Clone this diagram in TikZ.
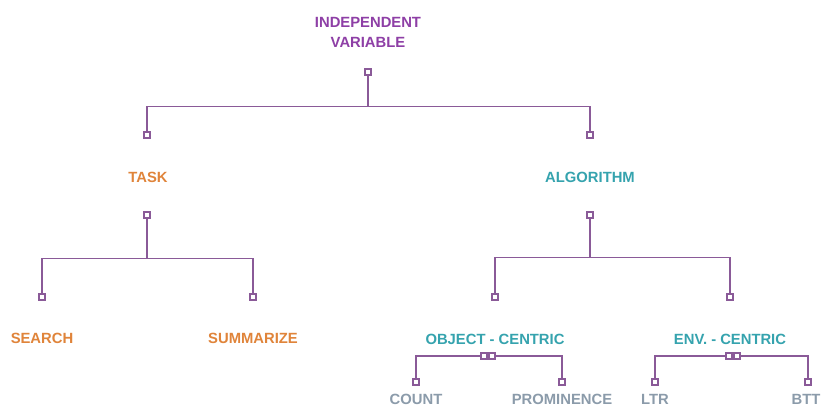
\documentclass[tikz,border=0pt]{standalone}
\usepackage{fontspec}
\setmainfont{Liberation Sans}
\begin{document}
\begin{tikzpicture}[x=1pt,y=-1pt,
  wire/.style={draw=linepurple,line width=1.6pt},
  port/.style={draw=linepurple,fill=white,line width=1.1pt,minimum size=6pt,inner sep=0pt},
  lbl/.style={font=\fontsize{14.8}{20}\selectfont\bfseries,inner sep=0pt,align=center},
  rootlbl/.style={lbl,text=rootpurple},
  tasklbl/.style={lbl,text=taskorange},
  algolbl/.style={lbl,text=algoteal},
  leaflbl/.style={lbl,text=leafgray}]
\definecolor{linepurple}{HTML}{8A5A98}
\definecolor{rootpurple}{HTML}{8E3FA6}
\definecolor{taskorange}{HTML}{E0843A}
\definecolor{algoteal}{HTML}{35A3AE}
\definecolor{leafgray}{HTML}{8B9BAA}
\useasboundingbox[fill=white] (0,0) rectangle (821,407);

% labels
\node[rootlbl] (root) at (368,32) {INDEPENDENT\\VARIABLE};
\node[tasklbl] (task) at (148,177) {TASK};
\node[algolbl] (algo) at (590,177) {ALGORITHM};
\node[tasklbl] (search) at (42,338) {SEARCH};
\node[tasklbl] (summ) at (253,338) {SUMMARIZE};
\node[algolbl] (obj) at (495,339) {OBJECT - CENTRIC};
\node[algolbl] (env) at (730,339) {ENV. - CENTRIC};
\node[leaflbl,anchor=base] (count) at (416,404) {COUNT};
\node[leaflbl,anchor=base] (prom) at (562,404) {PROMINENCE};
\node[leaflbl,anchor=base] (ltr) at (655,404) {LTR};
\node[leaflbl,anchor=base] (btt) at (806,404) {BTT};

% ports
\node[port] (pRoot) at (368,72) {};
\node[port] (pTaskIn) at (147,135) {};
\node[port] (pAlgoIn) at (590,135) {};
\node[port] (pTaskOut) at (147,215) {};
\node[port] (pAlgoOut) at (590,215) {};
\node[port] (pSearch) at (42,297) {};
\node[port] (pSumm) at (253,297) {};
\node[port] (pObj) at (495,297) {};
\node[port] (pEnv) at (730,297) {};
\node[port] (pObjL) at (484,356) {};
\node[port] (pObjR) at (492,356) {};
\node[port] (pEnvL) at (729,356) {};
\node[port] (pEnvR) at (737,356) {};
\node[port] (pCount) at (416,382) {};
\node[port] (pProm) at (562,382) {};
\node[port] (pLtr) at (655,382) {};
\node[port] (pBtt) at (808,382) {};

% connectors
\path[wire] (pRoot.south) -- ++(0,31) coordinate (jRoot);
\path[wire] (pTaskIn.north) |- (jRoot) -| (pAlgoIn.north);
\path[wire] (pTaskOut.south) -- ++(0,40) coordinate (jTask);
\path[wire] (pSearch.north) |- (jTask) -| (pSumm.north);
\path[wire] (pAlgoOut.south) -- ++(0,39) coordinate (jAlgo);
\path[wire] (pObj.north) |- (jAlgo) -| (pEnv.north);
\path[wire] (pCount.north) |- (pObjL.west);
\path[wire] (pObjR.east) -| (pProm.north);
\path[wire] (pLtr.north) |- (pEnvL.west);
\path[wire] (pEnvR.east) -| (pBtt.north);
\end{tikzpicture}
\end{document}
